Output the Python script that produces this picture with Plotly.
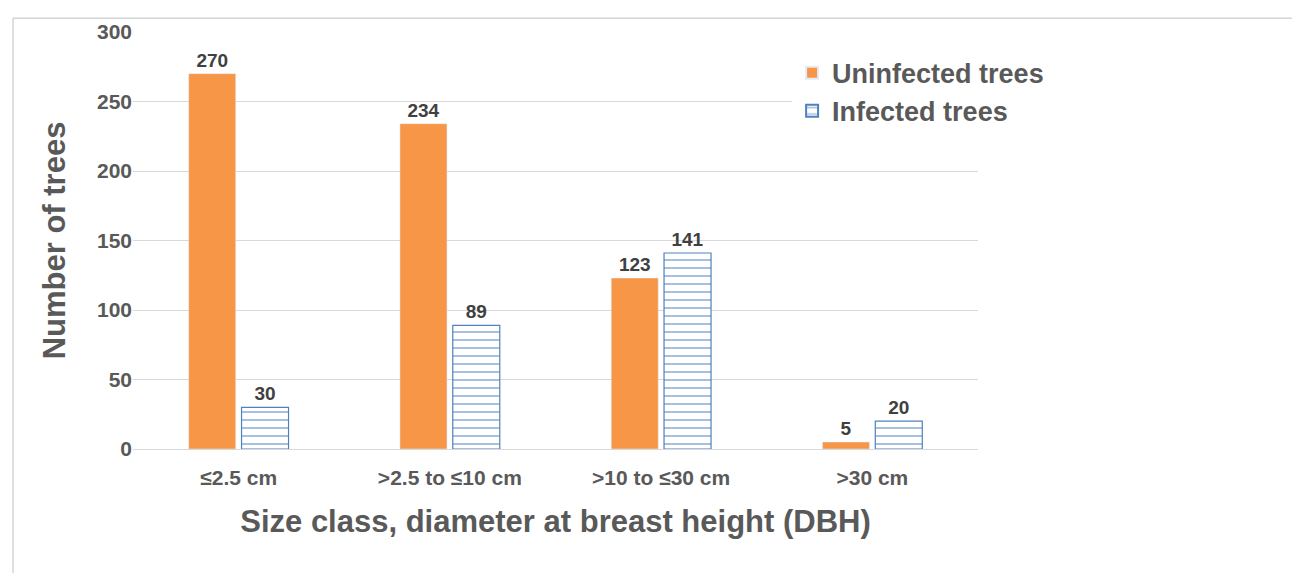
import plotly.graph_objects as go

categories = ["≤2.5 cm", ">2.5 to ≤10 cm", ">10 to ≤30 cm", ">30 cm"]
uninfected = [270, 234, 123, 5]
infected = [30, 89, 141, 20]

font_color = "#595959"
label_font = dict(size=19, color="#404040", family="Liberation Sans")

fig = go.Figure()
fig.add_trace(go.Bar(
    x=categories, y=uninfected, name="<b>Uninfected trees</b>",
    marker=dict(color="#F79646"),
    text=[f"<b>{v}</b>" for v in uninfected], textposition="outside",
    textfont=label_font, cliponaxis=False,
))
fig.add_trace(go.Bar(
    x=categories, y=infected, name="<b>Infected trees</b>",
    marker=dict(color="white", line=dict(color="#4F81BD", width=1.2),
                pattern=dict(shape="-", fgcolor="#4F81BD", bgcolor="white", size=8, solidity=0.25)),
    text=[f"<b>{v}</b>" for v in infected], textposition="outside",
    textfont=label_font, cliponaxis=False,
))

pw, ph = 845, 422
top, bottom = 19, 132
fig.update_layout(
    width=1300, height=573,
    margin=dict(l=125, r=330, t=top, b=bottom),
    paper_bgcolor="white", plot_bgcolor="white",
    font=dict(family="Liberation Sans, Arial", color=font_color),
    barmode="group", bargap=0.5, bargroupgap=0.11,
    showlegend=True,
    legend=dict(x=0.78, y=0.96, xanchor="left", yanchor="top",
                font=dict(size=27, color=font_color, family="Liberation Sans"),
                itemsizing="constant", tracegroupgap=22),
    xaxis=dict(
        tickfont=dict(size=21, color=font_color),
        title=dict(text="<b>Size class, diameter at breast height (DBH)</b>",
                   font=dict(size=31, color=font_color), standoff=22),
        showline=True, linecolor="#d9d9d9", linewidth=1, ticks="",
        ticklabelstandoff=10,
    ),
    yaxis=dict(
        range=[0, 300], dtick=50,
        tickfont=dict(size=21, color=font_color),
        title=dict(text="<b>Number of trees</b>", font=dict(size=31, color=font_color), standoff=22),
        gridcolor="#d9d9d9", zeroline=False, ticks="",
    ),
    shapes=[dict(type="rect", xref="paper", yref="paper",
                 x0=-120 / pw, x1=(1292 - 125) / pw,
                 y0=-(567 - top - ph) / ph, y1=1 + (top - 5) / ph,
                 line=dict(color="#bfbfbf", width=1))],
)
fig.update_xaxes(tickprefix="<b>", ticksuffix="</b>")
fig.update_yaxes(tickprefix="<b>", ticksuffix="</b>")

fig.write_html("out.html")
